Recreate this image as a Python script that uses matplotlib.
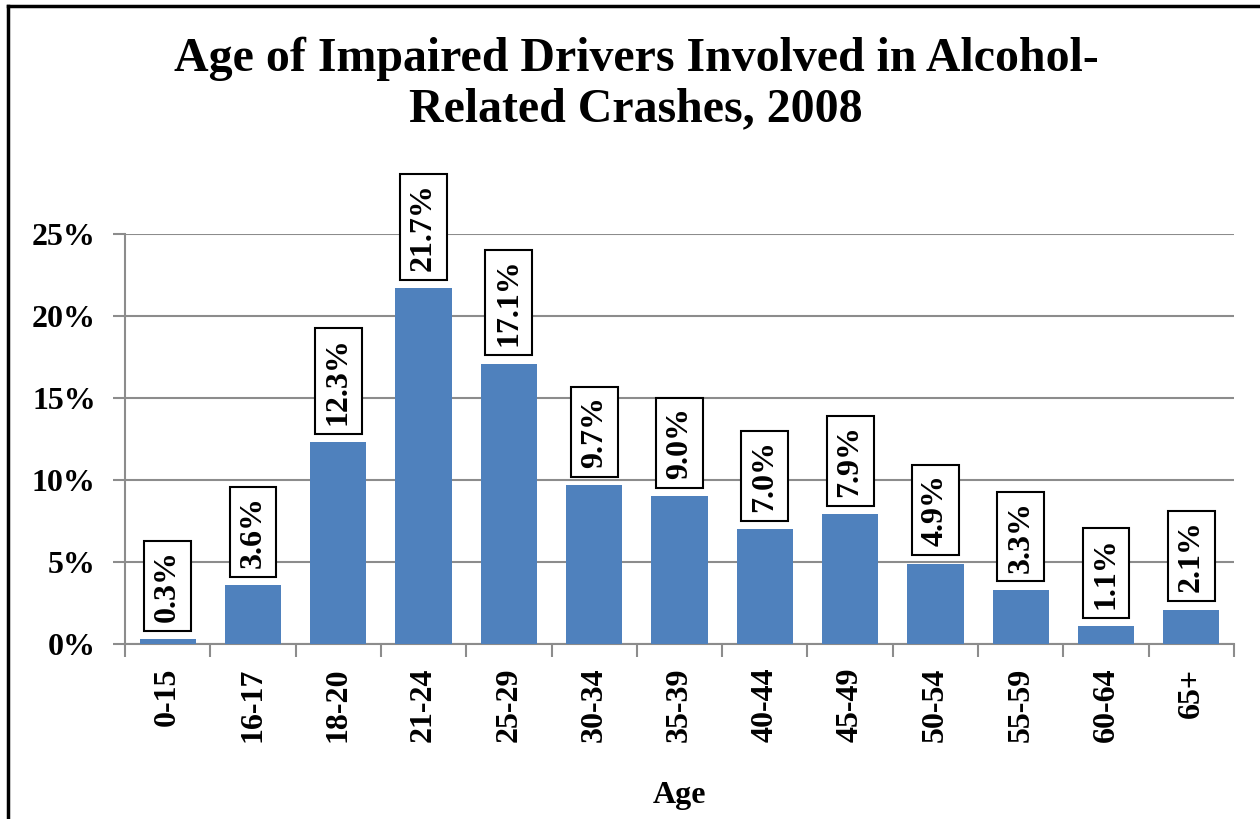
import matplotlib
matplotlib.use("Agg")
import matplotlib.pyplot as plt
from matplotlib.lines import Line2D

categories = ["0-15", "16-17", "18-20", "21-24", "25-29", "30-34", "35-39",
              "40-44", "45-49", "50-54", "55-59", "60-64", "65+"]
values = [0.3, 3.6, 12.3, 21.7, 17.1, 9.7, 9.0, 7.0, 7.9, 4.9, 3.3, 1.1, 2.1]
yticks = [0, 5, 10, 15, 20, 25]
ytick_labels = ["0%", "5%", "10%", "15%", "20%", "25%"]
title = "Age of Impaired Drivers Involved in Alcohol-\nRelated Crashes, 2008"
xlabel = "Age"

plt.rcParams['font.family'] = ['Liberation Serif', 'DejaVu Serif']
plt.rcParams['font.weight'] = 'bold'

W, H = 1260, 819
FS = 23
fig = plt.figure(figsize=(12.6, 8.19), dpi=100)
ax = fig.add_axes([125 / W, 1 - 644 / H, (1234 - 125) / W, (644 - 234) / H])

x = list(range(len(categories)))
bars = ax.bar(x, values, width=0.66, color="#4F81BD", zorder=3)

ax.set_xlim(-0.5, len(categories) - 0.5)
ax.set_ylim(0, 25)
ax.set_yticks(yticks)
ax.set_yticklabels(ytick_labels, fontsize=FS, fontweight='bold')
ax.yaxis.grid(True, color="#8C8C8C", linewidth=1.5, zorder=0)
ax.set_axisbelow(True)

ax.set_xticks(x)
ax.set_xticklabels(categories, rotation=90, fontsize=FS, fontweight='bold')
ax.tick_params(axis='x', length=0, pad=17)
ax.tick_params(axis='y', length=9, width=1.5, color="#8C8C8C", pad=12)
# category boundary ticks
ax.set_xticks([i - 0.5 for i in range(len(categories) + 1)], minor=True)
ax.tick_params(axis='x', which='minor', length=9, width=1.5, color="#8C8C8C")

for s in ["top", "right"]:
    ax.spines[s].set_visible(False)
for s in ["left", "bottom"]:
    ax.spines[s].set_color("#8C8C8C")
    ax.spines[s].set_linewidth(1.5)

for xi, v in zip(x, values):
    ax.annotate(f"{v:.1f}%", xy=(xi, v), xytext=(0, 12.5), textcoords="offset points",
                rotation=90, ha="center", va="bottom", fontsize=FS, fontweight='bold',
                bbox=dict(boxstyle="square,pad=0.28", fc="white", ec="black", lw=1.5),
                annotation_clip=False, clip_on=False, zorder=5)

ax.set_xlabel(xlabel, fontsize=FS, fontweight='bold', labelpad=28)
fig.text(636 / W, 1 - 84 / H, title, ha="center", va="center", fontsize=34.5,
         fontweight='bold', linespacing=1.17)

# figure border (top and left visible)
fig.add_artist(Line2D([8 / W, 1.0], [1 - 6 / H, 1 - 6 / H], transform=fig.transFigure,
                      color="black", lw=2.5))
fig.add_artist(Line2D([8 / W, 8 / W], [1 - 6 / H, 0.0], transform=fig.transFigure,
                      color="black", lw=2.5))

fig.savefig("out.png", dpi=100)
